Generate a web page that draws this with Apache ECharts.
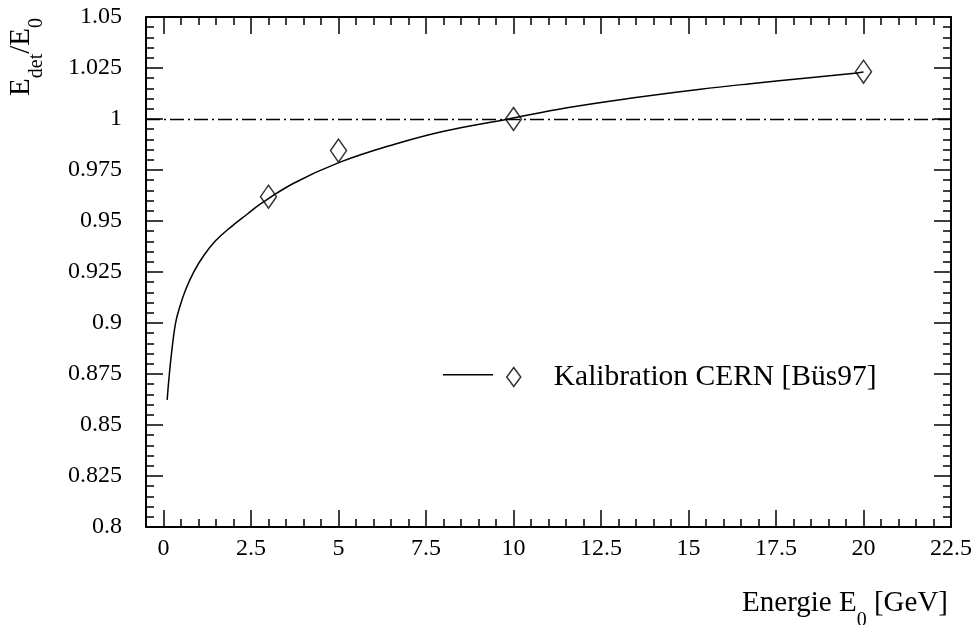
<!DOCTYPE html>
<html>
<head>
<meta charset="utf-8">
<script src="https://cdn.jsdelivr.net/npm/echarts@6/dist/echarts.min.js"></script>
<style>
html,body{margin:0;padding:0;background:#fff;}
#chart{width:975px;height:625px;}
</style>
</head>
<body>
<div id="chart"></div>
<script>
const curveX = [0.105, 0.152, 0.229, 0.343, 0.466, 0.629, 0.866, 1.151, 1.486, 1.914, 2.39, 2.771, 3.72, 5.01, 6.58, 8.01, 9.82, 11.53, 13.44, 15.34, 16.77, 18.39, 19.82, 20.0];
const curveY = [0.8623, 0.8721, 0.8851, 0.8998, 0.9080, 0.9162, 0.9251, 0.9331, 0.9403, 0.9469, 0.9533, 0.9584, 0.9685, 0.9786, 0.9875, 0.9940, 0.9999, 1.0055, 1.0104, 1.0146, 1.0173, 1.0201, 1.0226, 1.0230];
// Measured calibration points
const pointsX = [3, 5, 10, 20];
const pointsY = [0.9619, 0.9845, 1.0, 1.0232];
// Axis ticks
const xTicks = [0, 2.5, 5, 7.5, 10, 12.5, 15, 17.5, 20, 22.5];
const yTicks = [0.8, 0.825, 0.85, 0.875, 0.9, 0.925, 0.95, 0.975, 1, 1.025, 1.05];
const xMinor = []; for (let i = 1; i <= 45; i++) xMinor.push(i / 2);
const yMinor = []; for (let i = 0; i <= 50; i++) yMinor.push(Math.round(800 + i * 5) / 1000);
const refLevel = 1;
const fitName = 'Fit';
const dataName = 'Kalibration CERN [Büs97]';

const FONT = '"Liberation Serif", "Times New Roman", serif';
const chart = echarts.init(document.getElementById('chart'));

function xAxisDef(pos, ticks, len, showLine, showLabel) {
  return {
    type: 'value', position: pos, min: -0.5, max: 22.5,
    axisLine: { show: showLine, onZero: false, lineStyle: { color: '#000', width: 2 } },
    axisTick: { show: true, inside: true, length: len, customValues: ticks, lineStyle: { color: '#000', width: 1.5 } },
    axisLabel: { show: showLabel, customValues: ticks, margin: 10, color: '#000', fontSize: 24, fontFamily: FONT, formatter: v => String(v) },
    splitLine: { show: false }
  };
}
function yAxisDef(pos, ticks, len, showLine, showLabel) {
  return {
    type: 'value', position: pos, min: 0.8, max: 1.05,
    axisLine: { show: showLine, onZero: false, lineStyle: { color: '#000', width: 2 } },
    axisTick: { show: true, inside: true, length: len, customValues: ticks, lineStyle: { color: '#000', width: 1.5 } },
    axisLabel: { show: showLabel, customValues: ticks, margin: 24, color: '#000', fontSize: 24, fontFamily: FONT, formatter: v => String(v) },
    splitLine: { show: false }
  };
}

const option = {
  animation: false,
  backgroundColor: '#fff',
  grid: { left: 146, right: 24, top: 17, bottom: 98, containLabel: false, outerBoundsMode: 'none' },
  xAxis: [
    xAxisDef('bottom', xTicks, 17, true, true),
    xAxisDef('bottom', xMinor, 8, false, false),
    xAxisDef('top', xTicks, 17, true, false),
    xAxisDef('top', xMinor, 8, false, false)
  ],
  yAxis: [
    yAxisDef('left', yTicks, 17, true, true),
    yAxisDef('left', yMinor, 8, false, false),
    yAxisDef('right', yTicks, 17, true, false),
    yAxisDef('right', yMinor, 8, false, false)
  ],
  legend: [
    { data: [fitName], left: 438, top: 369, itemWidth: 50, itemHeight: 1.5, formatter: () => '', selectedMode: false,
      icon: 'path://M0,0L50,0L50,1.5L0,1.5Z', itemStyle: { color: '#000' }, textStyle: { fontSize: 1 } },
    { data: [dataName], left: 501, top: 357, itemWidth: 14, itemHeight: 19, selectedMode: false,
      textStyle: { fontSize: 29.5, fontFamily: FONT, color: '#000', padding: [0, 0, 0, 28] },
      itemStyle: { color: 'transparent', borderColor: '#000', borderWidth: 1.5 } }
  ],
  series: [
    {
      name: fitName, type: 'line', xAxisIndex: 0, yAxisIndex: 0,
      data: curveX.map((x, i) => [x, curveY[i]]),
      symbol: 'none', smooth: 0.4,
      lineStyle: { color: '#000', width: 1.5 }, itemStyle: { color: '#000' },
      markLine: {
        silent: true, symbol: ['none', 'none'], label: { show: false },
        lineStyle: { color: '#000', width: 1.3, type: [14, 4, 2, 4] },
        data: [{ yAxis: refLevel }]
      }
    },
    {
      name: dataName, type: 'scatter', xAxisIndex: 0, yAxisIndex: 0,
      data: pointsX.map((x, i) => [x, pointsY[i]]),
      symbol: 'diamond', symbolSize: [16, 23],
      itemStyle: { color: 'transparent', borderColor: '#000', borderWidth: 1.5 }
    }
  ],
  graphic: [
    {
      type: 'text', x: 21, y: 57, rotation: Math.PI / 2,
      style: {
        text: '{m|E}{s|det}{m|/E}{s|0}', align: 'center', verticalAlign: 'middle', fill: '#000',
        rich: {
          m: { fontSize: 29, fontFamily: FONT, fill: '#000' },
          s: { fontSize: 20, fontFamily: FONT, fill: '#000', padding: [32, 0, 0, 0] }
        }
      }
    },
    {
      type: 'text', right: 27, top: 589,
      style: {
        text: '{m|Energie E}{s|0}{m| [GeV]}', fill: '#000',
        rich: {
          m: { fontSize: 29, fontFamily: FONT, fill: '#000' },
          s: { fontSize: 20, fontFamily: FONT, fill: '#000', padding: [34, 0, 0, 0] }
        }
      }
    }
  ]
};
chart.setOption(option);
</script>
</body>
</html>
